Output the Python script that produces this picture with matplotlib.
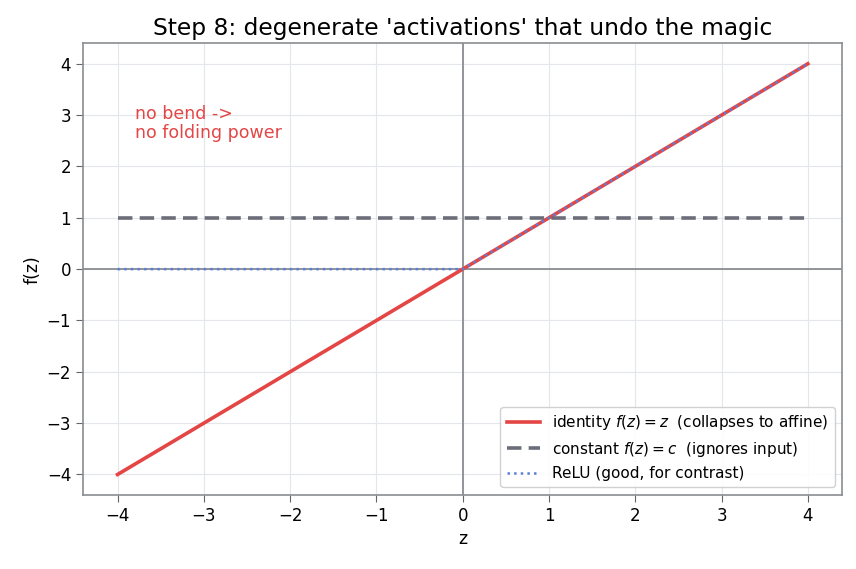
import numpy as np
import matplotlib.pyplot as plt

# Data
z = np.array([-4.0, 0.0, 4.0])
identity_vals = np.array([-4.0, 0.0, 4.0])
constant_vals = np.array([1.0, 1.0, 1.0])
relu_vals = np.array([0.0, 0.0, 4.0])
ticks = list(range(-4, 5))

fig, ax = plt.subplots(figsize=(8.56, 5.69), dpi=100)
fig.subplots_adjust(left=0.097, right=0.984, top=0.924, bottom=0.13)

ax.grid(True, color='#e3e6ea', linewidth=0.8)
ax.set_axisbelow(True)
ax.axhline(0, color='#8a8d91', linewidth=1.3, zorder=1)
ax.axvline(0, color='#8a8d91', linewidth=1.3, zorder=1)

ax.plot(z, identity_vals, color='#e44545', linewidth=2.6,
        label='identity $f(z)=z$  (collapses to affine)')
ax.plot(z, constant_vals, color='#6b6e78', linewidth=2.6, linestyle=(0, (4, 2)),
        label='constant $f(z)=c$  (ignores input)')
ax.plot(z, relu_vals, color='#5b7fd6', linewidth=1.8, linestyle=':',
        label='ReLU (good, for contrast)')

ax.text(-3.8, 2.47, 'no bend ->\nno folding power', color='#e44545', fontsize=12.5,
        va='bottom', ha='left', linespacing=1.12)

ax.set_xticks(ticks)
ax.set_yticks(ticks)
ax.set_xticklabels([f'\u2212{abs(v)}' if v < 0 else str(v) for v in ticks])
ax.set_yticklabels([f'\u2212{abs(v)}' if v < 0 else str(v) for v in ticks])
ax.tick_params(labelsize=12, color='#666666', length=5)
for s in ax.spines.values():
    s.set_color('#8a8d91')
    s.set_linewidth(1.2)

ax.set_xlabel('z', fontsize=12.5)
ax.set_ylabel('f(z)', fontsize=12.5)
ax.set_title("Step 8: degenerate 'activations' that undo the magic", fontsize=16.8)
ax.legend(loc='lower right', fontsize=11, framealpha=0.9, edgecolor='#cccccc',
          handlelength=2.2)

fig.savefig('out.png', dpi=100)
